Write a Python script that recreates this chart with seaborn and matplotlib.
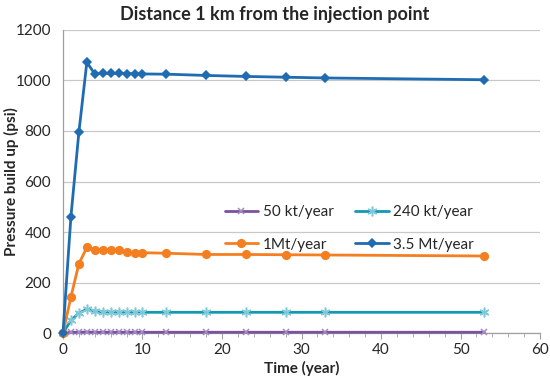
import matplotlib
matplotlib.use("Agg")
import matplotlib.pyplot as plt
import seaborn as sns
from matplotlib.ticker import MultipleLocator

# Datos
tiempo = [0, 1, 2, 3, 4, 5, 6, 7, 8, 9, 10, 13, 18, 23, 28, 33, 53]
p_50kt = [0, 3, 3, 4, 3, 3, 3, 3, 3, 3, 3, 3, 3, 3, 3, 3, 3]
p_240kt = [0, 50, 79, 94, 87, 84, 83, 83, 82, 82, 82, 82, 82, 82, 82, 82, 82]
p_1mt = [0, 143, 274, 339, 330, 330, 330, 327, 322, 318, 318, 316, 311, 311, 310, 309, 305]
p_35mt = [0, 461, 795, 1072, 1026, 1028, 1028, 1028, 1027, 1027, 1026, 1025, 1020, 1016, 1013, 1010, 1003]

series = [
    ("50 kt/year", p_50kt, "#7b52a0", "#a58cc4", "x", 5),
    ("240 kt/year", p_240kt, "#1499b3", "#7fc8da", (6, 2, 0), 7),
    ("1Mt/year", p_1mt, "#f47f20", "#f47f20", "o", 5.5),
    ("3.5 Mt/year", p_35mt, "#1f6cb2", "#1f6cb2", "D", 4),
]

sns.set_style("white")
plt.rcParams["font.family"] = ["Lato", "DejaVu Sans"]

fig = plt.figure(figsize=(5.5, 3.83), dpi=100)
ax = fig.add_axes([0.1145, 0.1305, 0.8675, 0.7912])

for nombre, vals, color, mcolor, marker, ms in series:
    sns.lineplot(x=tiempo, y=vals, ax=ax, color=color, linewidth=2.0,
                 marker=marker, markersize=ms, markerfacecolor=mcolor,
                 markeredgecolor=mcolor, markeredgewidth=1.1, label=nombre,
                 clip_on=False, zorder=3)

h, l = ax.get_legend_handles_labels()
orden = [0, 2, 1, 3]
ax.legend([h[i] for i in orden], [l[i] for i in orden], ncol=2, frameon=False,
          loc="center", bbox_to_anchor=(0.6, 0.345), fontsize=11,
          columnspacing=1.4, handlelength=2.2, labelspacing=1.2, handletextpad=0.3)

ax.set_xlim(0, 60)
ax.set_ylim(0, 1200)
ax.xaxis.set_major_locator(MultipleLocator(10))
ax.xaxis.set_minor_locator(MultipleLocator(2))
ax.yaxis.set_major_locator(MultipleLocator(200))
ax.grid(axis="y", color="#c8c8c8", linewidth=0.9)
ax.set_axisbelow(True)

for lado in ["top", "right"]:
    ax.spines[lado].set_visible(False)
for lado in ["left", "bottom"]:
    ax.spines[lado].set_color("#a0a0a0")
    ax.spines[lado].set_linewidth(0.9)

ax.tick_params(axis="x", which="both", direction="out", color="#a0a0a0", bottom=True)
ax.tick_params(axis="x", which="major", length=4, labelsize=11, pad=3)
ax.tick_params(axis="x", which="minor", length=3)
ax.tick_params(axis="y", left=False, labelsize=11, pad=5)

ax.set_xlabel("Time (year)", fontsize=11, fontweight="bold", labelpad=3)
ax.set_ylabel("Pressure build up (psi)", fontsize=11, fontweight="bold")
ax.yaxis.set_label_coords(-0.092, 0.5)
fig.suptitle("Distance 1 km from the injection point", fontsize=13,
             fontweight="bold", x=0.5, y=0.985)

fig.savefig("out.png", dpi=100)
plt.close(fig)
